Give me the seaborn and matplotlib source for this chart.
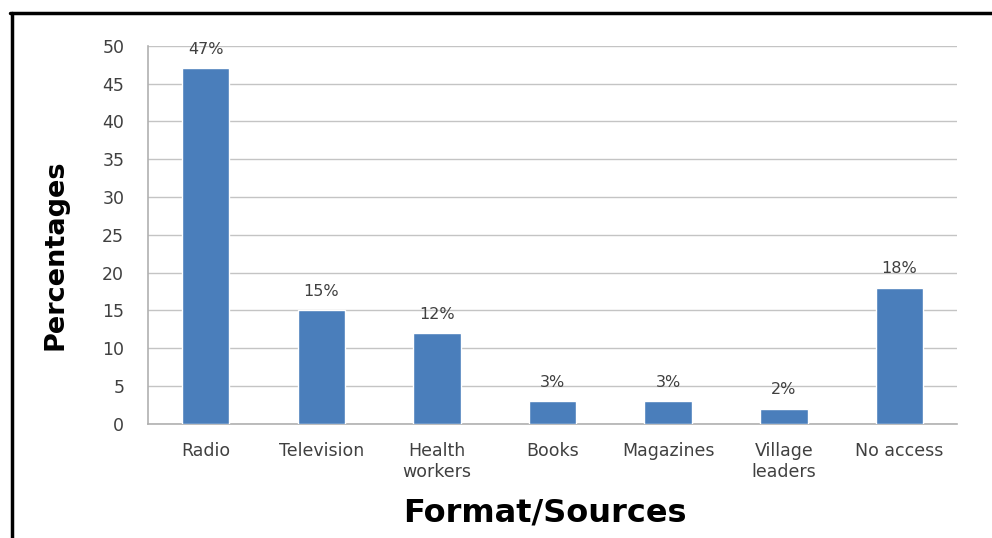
import numpy as np
import pandas as pd
import seaborn as sns
import matplotlib.pyplot as plt
from matplotlib.lines import Line2D

categories = ["Radio", "Television", "Health\nworkers", "Books", "Magazines", "Village\nleaders", "No access"]
percentages = [47, 15, 12, 3, 3, 2, 18]
yticks = [0, 5, 10, 15, 20, 25, 30, 35, 40, 45, 50]

df = pd.DataFrame({"source": categories, "pct": percentages})

sns.set_style("white")
plt.rcParams['font.family'] = ['DejaVu Sans']

fig = plt.figure(figsize=(9.92, 5.38), dpi=100)
ax = fig.add_axes([0.149, 0.212, 0.816, 0.703])

sns.barplot(data=df, x="source", y="pct", color="#4a7ebb", saturation=1, width=0.41, ax=ax, zorder=3)

ax.set_ylim(0, 50)
ax.set_yticks(yticks)
ax.set_xlim(-0.5, len(categories) - 0.5)
ax.yaxis.grid(True, color="#c4c4c4", linewidth=1.0, zorder=0)
ax.set_axisbelow(True)

for s in ["top", "right"]:
    ax.spines[s].set_visible(False)
for s in ["left", "bottom"]:
    ax.spines[s].set_color("#b0b0b0")
    ax.spines[s].set_linewidth(1.2)

ax.tick_params(axis="y", length=6, color="#b0b0b0", labelsize=12.5, labelcolor="#404040", pad=11)
ax.tick_params(axis="x", length=0, labelsize=12.5, labelcolor="#404040", pad=13)
# category separator ticks on x axis
ax.set_xticks(np.arange(len(categories) + 1) - 0.5, minor=True)
ax.tick_params(axis="x", which="minor", length=5, color="#b0b0b0", width=1)

for i, v in enumerate(percentages):
    ax.text(i, v + 1.5, f"{v}%", ha="center", va="bottom", fontsize=11.5, color="#404040")

ax.set_xlabel("Format/Sources", fontsize=23, fontweight="bold", color="black")
ax.set_ylabel("Percentages", fontsize=19.5, fontweight="bold", color="black")
ax.xaxis.set_label_coords(0.49, -0.195)
ax.yaxis.set_label_coords(-0.098, 0.447)

# black frame around the chart (top and left edges visible in the reference)
fig.add_artist(Line2D([0.010, 1.0], [0.976, 0.976], transform=fig.transFigure, color="black", linewidth=2.5))
fig.add_artist(Line2D([0.0116, 0.0116], [0.0, 0.976], transform=fig.transFigure, color="black", linewidth=2.5))

fig.savefig("out.png", dpi=100)
